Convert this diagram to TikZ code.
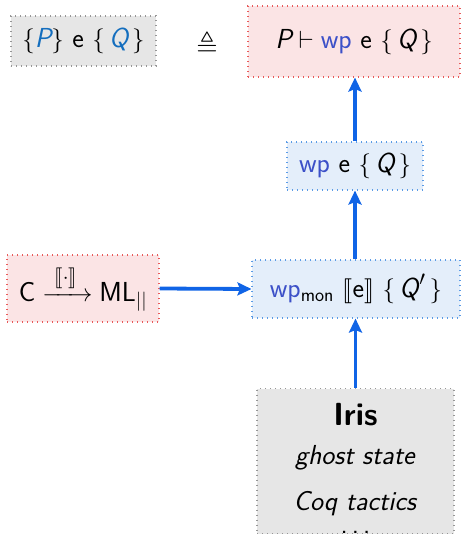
\documentclass[tikz,border=0pt]{standalone}
\usepackage{amsmath,amssymb}
\usepackage{stmaryrd}
\usetikzlibrary{arrows.meta}

\definecolor{pinkfill}{RGB}{251,228,229}
\definecolor{pinkdot}{RGB}{232,90,90}
\definecolor{bluefill}{RGB}{228,238,250}
\definecolor{bluedot}{RGB}{90,155,230}
\definecolor{grayfill}{RGB}{230,230,230}
\definecolor{graydot}{RGB}{150,150,150}
\definecolor{flowblue}{RGB}{16,100,230}
\definecolor{wpblue}{RGB}{60,80,200}
\definecolor{pqblue}{RGB}{20,110,190}

\newcommand{\sv}[1]{\textsl{#1}}
\newcommand{\wpc}{\textcolor{wpblue}{\textsf{wp}}}

\tikzset{
  txt/.style={font=\fontsize{27.5}{33}\selectfont\sffamily, inner sep=0pt},
  box/.style={txt, rectangle, line width=1.1pt,
    dash pattern=on 1pt off 4pt},
  pinkbox/.style={box, fill=pinkfill, draw=pinkdot},
  bluebox/.style={box, fill=bluefill, draw=bluedot},
  graybox/.style={box, fill=grayfill, draw=graydot},
  flow/.style={draw=flowblue, line width=3.8pt,
    -{Stealth[length=14pt,width=13pt,inset=2.5pt]}},
}

\begin{document}
\begin{tikzpicture}[x=1pt, y=-1pt]
  \useasboundingbox (0,0) rectangle (462,536);
  \clip (0,0) rectangle (462,536);

  % top line: Hoare triple defined as a wp entailment
  \node[graybox, minimum width=145pt, minimum height=50pt] (triple) at (83.5,41)
    {$\{\sv{\color{pqblue}P}\}\ \textsf{e}\ \{\,\sv{\color{pqblue}Q}\,\}$};
  \node[txt] (defeq) at (207,44) {$\triangleq$};
  \node[pinkbox, minimum width=212pt, minimum height=71pt] (entail) at (354,41.5)
    {$\sv{P}\vdash\wpc\ \textsf{e}\ \{\,\sv{Q}\,\}$};

  % weakest preconditions
  \node[bluebox, minimum width=136pt, minimum height=48pt] (wp) at (355,166)
    {$\wpc\ \textsf{e}\ \{\,\sv{Q}\,\}$};
  \node[bluebox, minimum width=208pt, minimum height=58pt] (wpmon) at (356,289)
    {$\wpc_{\textsf{mon}}\ \llbracket\textsf{e}\rrbracket\ \{\,\sv{Q}^{\kern1pt\prime}\,\}$};

  % translation from C
  \node[pinkbox, minimum width=152pt, minimum height=67pt] (trans) at (83,288.5)
    {$\textsf{C}\xrightarrow{\;\llbracket\cdot\rrbracket\;}\textsf{ML}_{\textsf{||}}$};

  % Iris foundation
  \node[graybox, minimum width=197pt, minimum height=145pt, anchor=north]
    (iris) at (355.5,388) {};
  \node[txt, anchor=base, font=\fontsize{32}{38}\selectfont\sffamily\bfseries]
    (iristitle) at (355.5,425) {Iris};
  \node[txt, anchor=base] (ghost) at (355.5,464) {\textsl{ghost state}};
  \node[txt, anchor=base] (tactics) at (355.5,510) {\textsl{Coq tactics}};
  \begin{scope}
    \clip (iris.north west) rectangle (iris.south east);
    \node[txt, anchor=base] (more) at (355.5,533.5) {.\kern4pt.\kern4pt.};
  \end{scope}

  % connectors
  \draw[flow] (trans.east) -- (wpmon.west);
  \draw[flow] (iris.north) -- (iris.north |- wpmon.south);
  \draw[flow] (wpmon.north -| wp.south) -- (wp.south);
  \draw[flow] (wp.north) -- (wp.north |- entail.south);
\end{tikzpicture}
\end{document}
